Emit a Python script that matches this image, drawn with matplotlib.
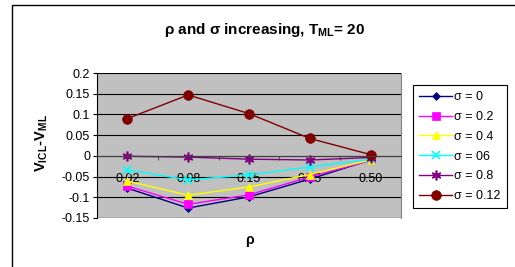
import matplotlib
matplotlib.use("Agg")
import matplotlib.pyplot as plt
from matplotlib.patches import Rectangle

categories = ["0.02", "0.08", "0.15", "0.25", "0.50"]
series_labels = ["σ = 0", "σ = 0.2", "σ = 0.4", "σ = 06", "σ = 0.8", "σ = 0.12"]
s0 = [-0.078, -0.126, -0.099, -0.056, -0.010]
s02 = [-0.073, -0.117, -0.094, -0.051, -0.011]
s04 = [-0.061, -0.095, -0.075, -0.045, -0.010]
s06 = [-0.034, -0.058, -0.046, -0.027, -0.008]
s08 = [-0.001, -0.003, -0.008, -0.010, -0.004]
s012 = [0.090, 0.147, 0.102, 0.042, 0.003]
series = [s0, s02, s04, s06, s08, s012]
colors = ["#000080", "#FF00FF", "#FFFF00", "#00FFFF", "#800080", "#800000"]
markers = ["D", "s", "^", "x", (6, 2, 0), "o"]
msizes = [4, 6, 6, 6, 7, 7]

plt.rcParams['font.family'] = ['Liberation Sans', 'DejaVu Sans']
fig = plt.figure(figsize=(5.15, 2.67), dpi=100)
fig.patch.set_facecolor("white")
W, H = 515, 267
# outer chart border
fig.patches.append(Rectangle((12 / W, -0.1), 1.2, (H - 5) / H + 0.1, transform=fig.transFigure,
                             fill=False, edgecolor="black", linewidth=1.0))

ax = fig.add_axes([97 / W, 1 - 218 / H, 304 / W, 145 / H])
ax.set_facecolor("#C0C0C0")
x = list(range(len(categories)))
for ys, c, m, ms, lab in zip(series, colors, markers, msizes, series_labels):
    ax.plot(x, ys, color=c, marker=m, markersize=ms, linewidth=1.0, label=lab,
            markeredgecolor=c, markerfacecolor=c, markeredgewidth=1.2 if m == "x" or isinstance(m, tuple) else 0.5)

ax.set_xlim(-0.5, len(categories) - 0.5)
ax.set_ylim(-0.15, 0.2)
ax.set_yticks([-0.15, -0.1, -0.05, 0, 0.05, 0.1, 0.15, 0.2])
ax.set_yticklabels(["-0.15", "-0.1", "-0.05", "0", "0.05", "0.1", "0.15", "0.2"], fontsize=9)
ax.yaxis.grid(True, color="black", linewidth=0.8)
ax.set_axisbelow(True)

ax.spines['bottom'].set_position(('data', 0))
ax.spines['bottom'].set_color("#404040")
ax.spines['top'].set_visible(False)
ax.spines['right'].set_color("#808080")
ax.spines['left'].set_color("black")
ax.axhline(-0.15, color="#808080", linewidth=1.0, zorder=0.5)
ax.set_xticks(x)
ax.set_xticklabels(categories, fontsize=9)
ax.tick_params(axis='x', which='major', length=0, pad=12)
ax.set_xticks([i + 0.5 for i in range(-1, len(categories))], minor=True)
ax.tick_params(axis='x', which='minor', length=3, direction='out', color="#404040")
ax.tick_params(axis='y', length=3, direction='out', pad=2)

fig.text(265 / W, 1 - 30 / H, "ρ and σ increasing, T$_{\\mathregular{ML}}$= 20", ha="center", va="center",
         fontsize=11, fontweight="bold")
fig.text(249 / W, 1 - 240 / H, "ρ", ha="center", va="center", fontsize=10, fontweight="bold")
fig.text(42 / W, 1 - 143 / H, "V$_{\\mathregular{ICL}}$-V$_{\\mathregular{ML}}$", ha="center", va="center",
         fontsize=10.5, fontweight="bold", rotation=90)

leg = fig.legend(loc="upper left", bbox_to_anchor=(413 / W, 1 - 85 / H), fontsize=9,
                 frameon=True, fancybox=False, edgecolor="black", framealpha=1,
                 handlelength=2.6, handletextpad=0.2, borderpad=0.5, labelspacing=0.62,
                 borderaxespad=0)
leg.get_frame().set_linewidth(0.8)

fig.savefig("out.png", dpi=100, facecolor="white")
